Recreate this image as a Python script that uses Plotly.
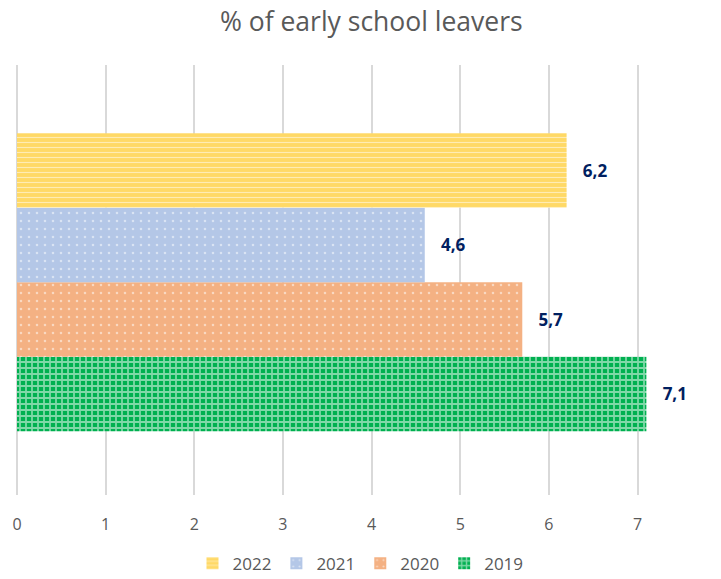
import plotly.graph_objects as go

years = ["2019", "2020", "2021", "2022"]
values = [7.1, 5.7, 4.6, 6.2]
colors = ["#00B050", "#F4B183", "#B4C7E7", "#FFD966"]
shapes = ["+", ".", ".", "-"]
category = ["% of early school leavers"]
title = "% of early school leavers"
tick_vals = [0, 1, 2, 3, 4, 5, 6, 7]

pat = {"+": dict(size=6, solidity=0.5), ".": dict(size=8, solidity=0.08),
       "-": dict(size=5, solidity=0.22)}

fig = go.Figure()
for yr, v, c, s in zip(years, values, colors, shapes):
    fig.add_trace(go.Bar(
        y=category, x=[v], name=yr, orientation="h",
        marker=dict(color=c, line=dict(width=0),
                    pattern=dict(shape=s, fgcolor="white", bgcolor=c,
                                 fillmode="overlay", **pat[s])),
        text=["\u00a0\u00a0\u00a0" + f"{v:.1f}".replace(".", ",")],
        textposition="outside",
        textfont=dict(color="#002060", size=17, family="Open Sans", weight="bold"),
        cliponaxis=False,
    ))

fig.update_layout(
    width=721, height=579,
    margin=dict(l=17, r=17, t=65, b=84, autoexpand=False),
    paper_bgcolor="white", plot_bgcolor="white",
    barmode="group", bargap=0.307, bargroupgap=0,
    title=dict(text=title, x=0.515, xanchor="center", y=0.962, yanchor="middle",
               font=dict(size=26.5, color="#595959", family="Open Sans")),
    font=dict(family="Open Sans", color="#595959"),
    xaxis=dict(range=[0, 7.75], tickvals=tick_vals, showgrid=True,
               gridcolor="#D9D9D9", gridwidth=1.5, zeroline=True,
               zerolinecolor="#D9D9D9", zerolinewidth=1.5,
               tickfont=dict(size=16, color="#595959"), ticks="",
               showline=False, ticklabelstandoff=18, automargin=False),
    yaxis=dict(showticklabels=False, showgrid=False, zeroline=False,
               showline=False, range=[-0.495, 0.505], automargin=False),
    legend=dict(orientation="h", x=0.5, xanchor="center", y=-0.118,
                yanchor="top", traceorder="reversed", itemwidth=30,
                font=dict(size=17, color="#595959")),
    showlegend=True,
)
fig.write_html("out.html", config={"displayModeBar": False},
               post_script="document.body.style.margin='0px';document.body.style.overflow='hidden';")
